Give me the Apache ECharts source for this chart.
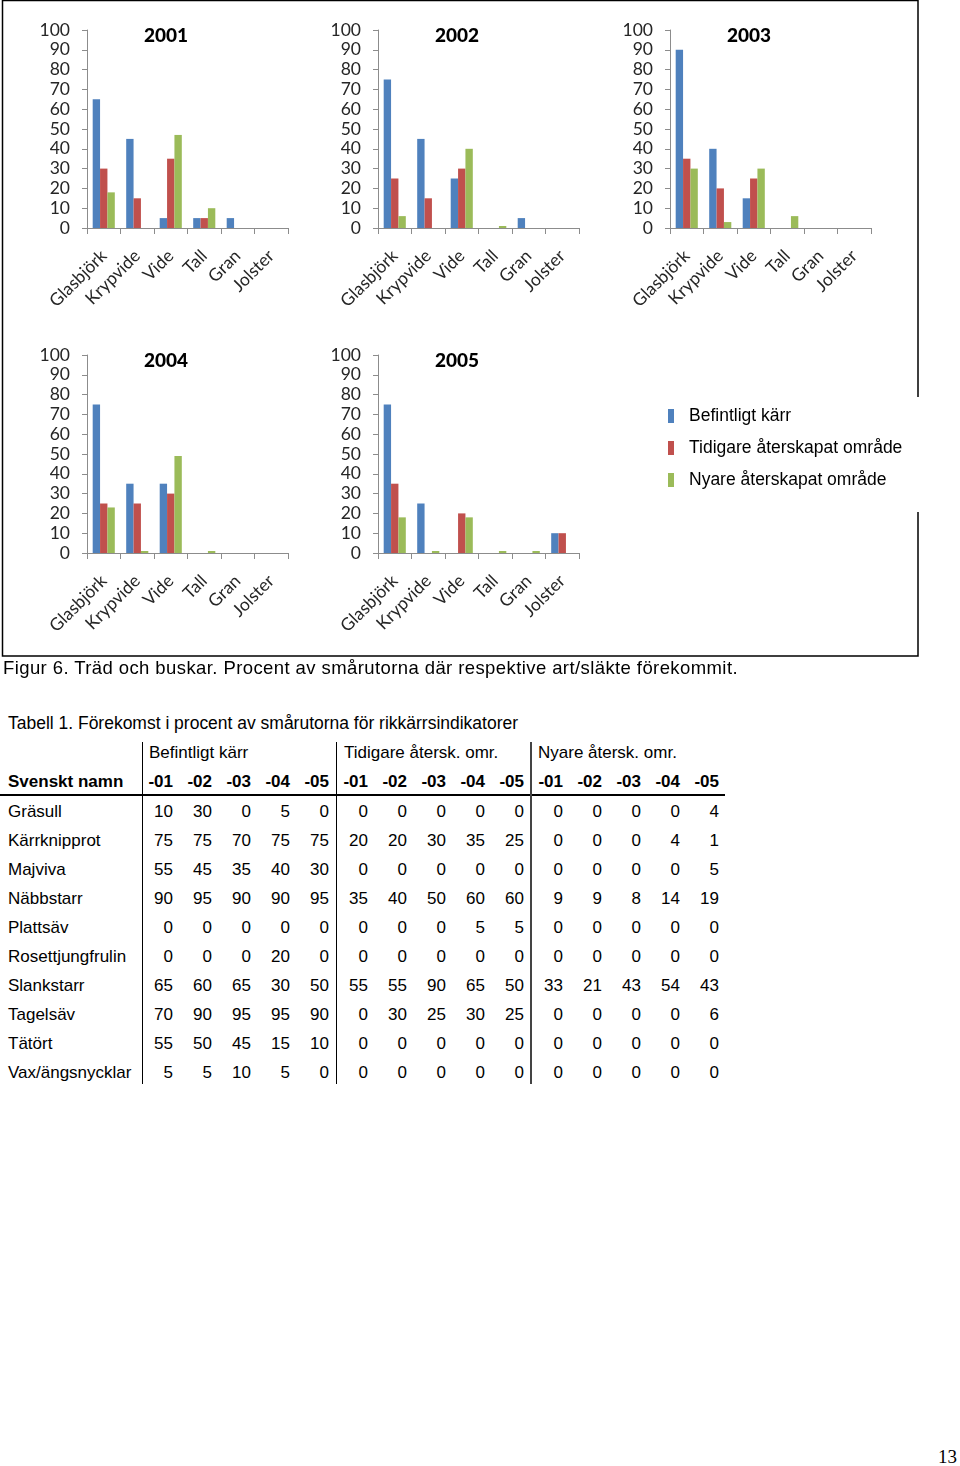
<!DOCTYPE html>
<html>
<head>
<meta charset="utf-8">
<script src="https://cdn.jsdelivr.net/npm/echarts@6/dist/echarts.min.js"></script>
<style>
  html, body { margin: 0; padding: 0; background: #fff; }
  #page { position: relative; width: 960px; height: 1466px; overflow: hidden; }
  #chart { position: absolute; left: 0; top: 0; width: 960px; height: 662px; }
  .t { position: absolute; white-space: nowrap; font-family: "Liberation Sans", Arial, sans-serif; font-size: 17px; color: #000; height: 22px; line-height: 22px; }
  .r { text-align: right; width: 50px; }
  .b { font-weight: bold; }
  .line { position: absolute; background: #000; }
</style>
</head>
<body>
<div id="page">
  <div id="chart"></div>
</div>
<script>
// ---------- Figure data ----------
const categories = ['Glasbjörk', 'Krypvide', 'Vide', 'Tall', 'Gran', 'Jolster'];
const years = ['2001', '2002', '2003', '2004', '2005'];
const seriesNames = ['Befintligt kärr', 'Tidigare återskapat område', 'Nyare återskapat område'];
const befintligtKarr = [
  [65, 45, 5, 5, 5, 0],
  [75, 45, 25, 0, 5, 0],
  [90, 40, 15, 0, 0, 0],
  [75, 35, 35, 0, 0, 0],
  [75, 25, 0, 0, 0, 10]
];
const tidigareOmrade = [
  [30, 15, 35, 5, 0, 0],
  [25, 15, 30, 0, 0, 0],
  [35, 20, 25, 0, 0, 0],
  [25, 25, 30, 0, 0, 0],
  [35, 0, 20, 0, 0, 10]
];
const nyareOmrade = [
  [18, 0, 47, 10, 0, 0],
  [6, 0, 40, 1, 0, 0],
  [30, 3, 30, 6, 0, 0],
  [23, 1, 49, 1, 0, 0],
  [18, 1, 18, 1, 1, 0]
];
const yTicks = [0, 10, 20, 30, 40, 50, 60, 70, 80, 90, 100];
const figureCaption = 'Figur 6. Träd och buskar. Procent av smårutorna där respektive art/släkte förekommit.';

// ---------- Table data ----------
const tableTitle = 'Tabell 1. Förekomst i procent av smårutorna för rikkärrsindikatorer';
const groupHeaders = ['Befintligt kärr', 'Tidigare återsk. omr.', 'Nyare återsk. omr.'];
const nameHeader = 'Svenskt namn';
const yearCols = ['-01', '-02', '-03', '-04', '-05'];
const speciesNames = ['Gräsull', 'Kärrknipprot', 'Majviva', 'Näbbstarr', 'Plattsäv', 'Rosettjungfrulin', 'Slankstarr', 'Tagelsäv', 'Tätört', 'Vax/ängsnycklar'];
const tabBefintligt = [
  [10, 30, 0, 5, 0],
  [75, 75, 70, 75, 75],
  [55, 45, 35, 40, 30],
  [90, 95, 90, 90, 95],
  [0, 0, 0, 0, 0],
  [0, 0, 0, 20, 0],
  [65, 60, 65, 30, 50],
  [70, 90, 95, 95, 90],
  [55, 50, 45, 15, 10],
  [5, 5, 10, 5, 0]
];
const tabTidigare = [
  [0, 0, 0, 0, 0],
  [20, 20, 30, 35, 25],
  [0, 0, 0, 0, 0],
  [35, 40, 50, 60, 60],
  [0, 0, 0, 5, 5],
  [0, 0, 0, 0, 0],
  [55, 55, 90, 65, 50],
  [0, 30, 25, 30, 25],
  [0, 0, 0, 0, 0],
  [0, 0, 0, 0, 0]
];
const tabNyare = [
  [0, 0, 0, 0, 4],
  [0, 0, 0, 4, 1],
  [0, 0, 0, 0, 5],
  [9, 9, 8, 14, 19],
  [0, 0, 0, 0, 0],
  [0, 0, 0, 0, 0],
  [33, 21, 43, 54, 43],
  [0, 0, 0, 0, 6],
  [0, 0, 0, 0, 0],
  [0, 0, 0, 0, 0]
];
const pageNumber = '13';

// ---------- Chart ----------
const colors = ['#4F81BD', '#C0504D', '#9BBB59'];
const gridPos = [
  { left: 87, top: 30 }, { left: 378, top: 30 }, { left: 670, top: 30 },
  { left: 87, top: 355 }, { left: 378, top: 355 }
];
const gridW = 201, gridH = 198;
const axisCol = '#8c8c8c';
const labelCol = '#262626';
const chartFont = 'Lato, Carlito, sans-serif';

const grids = [], xAxes = [], yAxes = [], series = [], titles = [];
const seriesData = [befintligtKarr, tidigareOmrade, nyareOmrade];
years.forEach((yr, i) => {
  const g = gridPos[i];
  grids.push({ left: g.left, top: g.top, width: gridW, height: gridH, containLabel: false });
  xAxes.push({
    type: 'category', gridIndex: i, data: categories,
    axisLine: { show: true, lineStyle: { color: axisCol, width: 1 } },
    axisTick: { show: true, length: 6, interval: 0, lineStyle: { color: axisCol } },
    axisLabel: { interval: 0, rotate: 45, margin: 25, fontSize: 17.5, fontFamily: chartFont, color: labelCol }
  });
  yAxes.push({
    type: 'value', gridIndex: i, min: yTicks[0], max: yTicks[yTicks.length - 1], interval: yTicks[1] - yTicks[0],
    axisLine: { show: true, lineStyle: { color: axisCol, width: 1 } },
    axisTick: { show: true, length: 5, lineStyle: { color: axisCol } },
    splitLine: { show: false },
    axisLabel: { margin: 17, fontSize: 17.5, fontFamily: chartFont, color: labelCol }
  });
  titles.push({
    text: yr, left: g.left + 52, top: g.top - 9,
    textStyle: { fontSize: 19, fontWeight: 900, fontFamily: chartFont, color: '#000' }
  });
  seriesNames.forEach((nm, s) => {
    series.push({
      name: nm, type: 'bar', xAxisIndex: i, yAxisIndex: i,
      data: seriesData[s][i], barGap: '0%', barCategoryGap: '34%',
      itemStyle: { color: colors[s] }, silent: true
    });
  });
});

const chart = echarts.init(document.getElementById('chart'), null, { renderer: 'canvas' });
chart.setOption({
  animation: false,
  color: colors,
  title: titles,
  grid: grids, xAxis: xAxes, yAxis: yAxes, series: series,
  legend: {
    data: seriesNames, orient: 'vertical', left: 663, top: 402,
    icon: 'rect', itemWidth: 6, itemHeight: 14, itemGap: 14,
    textStyle: { fontFamily: '"Liberation Sans", Arial, sans-serif', fontSize: 17.5, color: '#000', padding: [0, 0, 0, 10] },
    selectedMode: false
  },
  graphic: [
    { type: 'polyline', shape: { points: [[918, 397], [918, 0.5], [2.5, 0.5], [2.5, 656], [918, 656], [918, 512]] },
      style: { stroke: '#000', lineWidth: 1.5, fill: null }, silent: true }
  ]
});

// ---------- HTML text: caption and table ----------
const page = document.getElementById('page');
function addText(txt, x, cy, cls, extra) {
  const d = document.createElement('div');
  d.className = 't' + (cls ? ' ' + cls : '');
  d.textContent = txt;
  d.style.left = x + 'px';
  d.style.top = (cy - 11) + 'px';
  if (extra) Object.assign(d.style, extra);
  page.appendChild(d);
  return d;
}
function fitWidth(el, target) {
  el.style.display = 'inline-block';
  const w = el.getBoundingClientRect().width;
  const n = el.textContent.length;
  if (n > 1) el.style.letterSpacing = ((target - w) / n).toFixed(3) + 'px';
}
function addLine(x, y, w, h, color) {
  const d = document.createElement('div');
  d.className = 'line';
  d.style.left = x + 'px'; d.style.top = y + 'px';
  d.style.width = w + 'px'; d.style.height = h + 'px';
  if (color) d.style.background = color;
  page.appendChild(d);
}

const cap = addText(figureCaption, 3, 668, '', { fontSize: '18.5px' });
fitWidth(cap, 735);
const tt = addText(tableTitle, 8, 723, '', { fontSize: '17.5px' });
fitWidth(tt, 510);

const groupLeft = [142, 337, 531];
const colRight = [];
for (let k = 0; k < 15; k++) colRight.push(173 + 39 * k);

groupHeaders.forEach((h, gi) => addText(h, groupLeft[gi] + 7, 753));
addText(nameHeader, 8, 782, 'b');
for (let gi = 0; gi < 3; gi++) {
  yearCols.forEach((c, k) => addText(c, colRight[gi * 5 + k] - 50, 782, 'b r'));
}
const tabGroups = [tabBefintligt, tabTidigare, tabNyare];
speciesNames.forEach((nm, r) => {
  const cy = 812 + 29 * r;
  addText(nm, 8, cy);
  tabGroups.forEach((grp, gi) => {
    grp[r].forEach((v, k) => addText(String(v), colRight[gi * 5 + k] - 50, cy, 'r'));
  });
});
addLine(0, 794, 725, 2);
addLine(142, 742, 1, 342);
addLine(336, 742, 1, 342);
addLine(530, 742, 2, 342, '#444');

addText(pageNumber, 938, 1457, '', { fontFamily: '"Liberation Serif", "Times New Roman", serif', fontSize: '19px' });
</script>
</body>
</html>
